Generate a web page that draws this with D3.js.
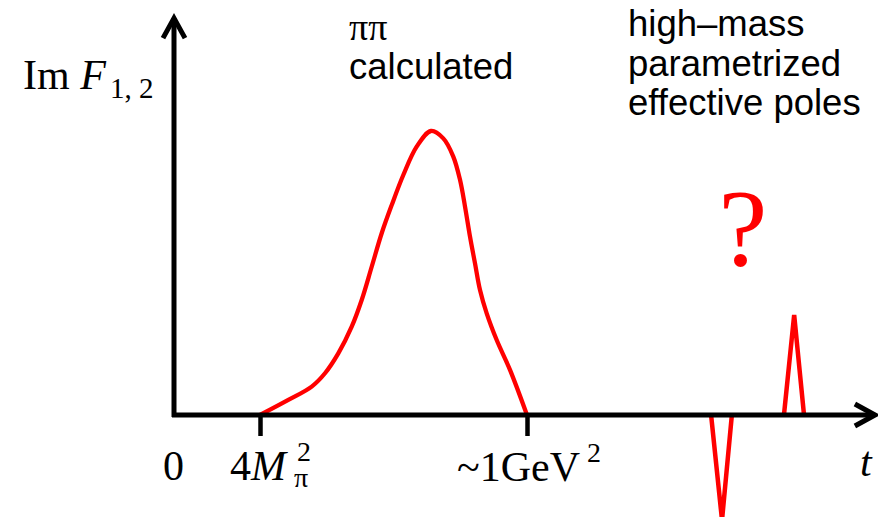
<!DOCTYPE html>
<html>
<head>
<meta charset="utf-8">
<script src="https://cdn.jsdelivr.net/npm/d3@7"></script>
<style>
  html, body { margin: 0; padding: 0; background: #fff; }
  svg { display: block; }
  .serif { font-family: "Liberation Serif", "Times New Roman", serif; }
  .sans { font-family: "Liberation Sans", Arial, Helvetica, sans-serif; }
</style>
</head>
<body>
<svg id="chart" width="878" height="517"></svg>
<script>
// Schematic spectral function Im F(t): t in units of GeV^2, height relative to the ππ peak.
const tickValues = [0.2415, 1.0];            // 4Mπ² threshold and ~1 GeV²
const pipiT = [0.2415, 0.3219, 0.3884, 0.4261, 0.4639, 0.5020, 0.5304, 0.5588, 0.5872,
               0.6156, 0.6486, 0.6866, 0.7273, 0.7622, 0.7906, 0.8097, 0.8239, 0.8381,
               0.8523, 0.8665, 0.8855, 0.9139, 0.9517, 1.0];
const pipiV = [0, 0.053, 0.100, 0.147, 0.217, 0.311, 0.405, 0.522, 0.640,
               0.739, 0.845, 0.945, 1.0, 0.974, 0.910, 0.828, 0.734, 0.628,
               0.534, 0.440, 0.358, 0.264, 0.159, 0];
// effective poles above 1 GeV²
const poleT = [[1.523, 1.554, 1.582], [1.730, 1.759, 1.787]];
const poleV = [[0, -0.37, 0], [0, 0.352, 0]];
const tMax = 1.994;
const vMax = 1.408;

const svg = d3.select("#chart");
const x = d3.scaleLinear().domain([0, 1]).range([175, 527]);
const y = d3.scaleLinear().domain([0, 1]).range([415, 131]);

const red = "#ff0000";

// ππ curve
const line = d3.line()
  .x((d) => x(d[0]))
  .y((d) => y(d[1]))
  .curve(d3.curveCatmullRom.alpha(0.5));

svg.append("path")
  .datum(pipiT.map((t, i) => [t, pipiV[i]]))
  .attr("d", line)
  .attr("fill", "none")
  .attr("stroke", red)
  .attr("stroke-width", 4.3)
  .attr("stroke-linecap", "butt")
  .attr("stroke-linejoin", "round");

// pole spikes
const spike = d3.line().x((d) => x(d[0])).y((d) => y(d[1]));
poleT.forEach((ts, k) => {
  svg.append("path")
    .datum(ts.map((t, i) => [t, poleV[k][i]]))
    .attr("d", spike)
    .attr("fill", "none")
    .attr("stroke", red)
    .attr("stroke-width", 4.5)
    .attr("stroke-linejoin", "miter")
    .attr("stroke-miterlimit", 4);
});

// axes
const ax = svg.append("g").attr("stroke", "#000").attr("fill", "none")
  .attr("stroke-width", 5);
ax.append("line")
  .attr("x1", x(0) - 3).attr("x2", x(tMax) - 2)
  .attr("y1", y(0)).attr("y2", y(0));
ax.append("line")
  .attr("x1", x(0) - 1).attr("x2", x(0) - 1)
  .attr("y1", y(0) + 2).attr("y2", y(vMax) + 3);
// arrow heads
ax.append("path")
  .attr("d", `M${x(tMax) - 22},${y(0) - 11} L${x(tMax) - 2},${y(0)} L${x(tMax) - 22},${y(0) + 11}`)
  .attr("stroke-linejoin", "miter");
ax.append("path")
  .attr("d", `M${x(0) - 12},${y(vMax) + 23} L${x(0) - 1},${y(vMax) + 3} L${x(0) + 10},${y(vMax) + 23}`)
  .attr("stroke-linejoin", "miter");

// ticks through d3 axis
const xAxis = d3.axisBottom(x).tickValues(tickValues).tickSize(21).tickFormat("");
const gx = svg.append("g").attr("transform", `translate(0,${y(0)})`).call(xAxis);
gx.select(".domain").remove();
gx.selectAll(".tick line").attr("stroke", "#000").attr("stroke-width", 4.5);

// axis labels
const serif = svg.append("g").attr("class", "serif").attr("fill", "#000");

serif.append("text").attr("x", 163).attr("y", 480)
  .attr("font-size", 42).text("0");

const lab1 = serif.append("text").attr("x", x(tickValues[0]) - 30).attr("y", 480).attr("font-size", 42);
lab1.append("tspan").text("4");
lab1.append("tspan").attr("font-style", "italic").text("M");
serif.append("text").attr("x", 294).attr("y", 487).attr("font-size", 28).text("π");
serif.append("text").attr("x", 297).attr("y", 461).attr("font-size", 28).text("2");

serif.append("text").attr("x", x(tickValues[1]) - 70).attr("y", 481)
  .attr("font-size", 42).text("~1GeV");
serif.append("text").attr("x", 587).attr("y", 462).attr("font-size", 28).text("2");

serif.append("text").attr("x", 860).attr("y", 476)
  .attr("font-size", 42).attr("font-style", "italic").text("t");

// y label
const ylab = serif.append("text").attr("x", 23).attr("y", 89).attr("font-size", 42);
ylab.append("tspan").text("Im ");
ylab.append("tspan").attr("font-style", "italic").text("F");
serif.append("text").attr("x", 110).attr("y", 98).attr("font-size", 29).text("1, 2");

// annotations
serif.append("text").attr("x", 349).attr("y", 40).attr("font-size", 38).text("ππ");
const sans = svg.append("g").attr("class", "sans").attr("fill", "#000").attr("font-size", 36.5);
sans.append("text").attr("x", 349).attr("y", 79).text("calculated");
const notes = ["high–mass", "parametrized", "effective poles"];
const noteY = [36, 76, 115];
notes.forEach((s, i) => {
  sans.append("text").attr("x", 628).attr("y", noteY[i]).text(s);
});

svg.append("text").attr("class", "serif")
  .attr("x", 743).attr("y", 265)
  .attr("text-anchor", "middle")
  .attr("font-size", 110)
  .attr("fill", red)
  .text("?");
</script>
</body>
</html>
